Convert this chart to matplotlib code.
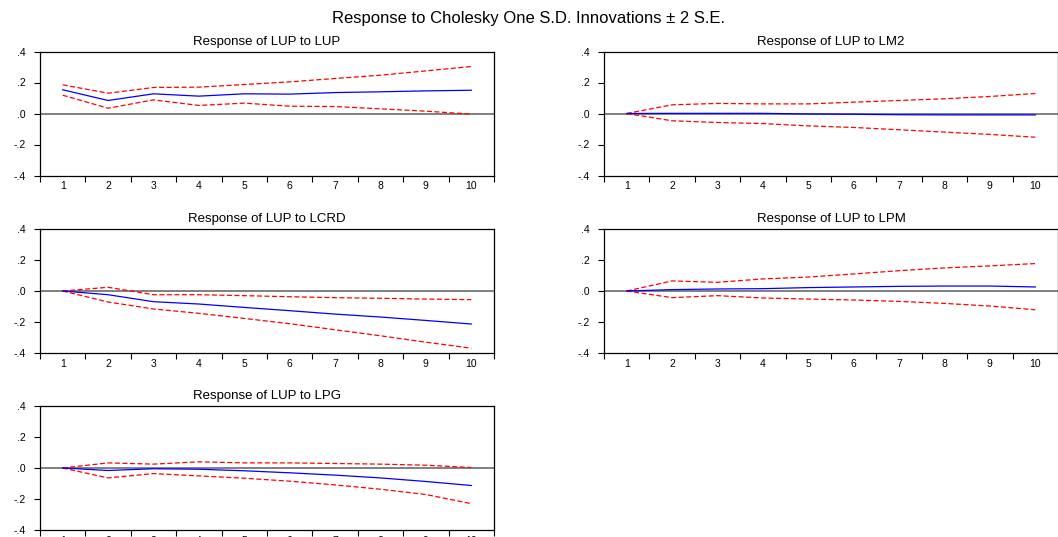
import matplotlib
matplotlib.use("Agg")
import matplotlib.pyplot as plt
import numpy as np

plt.rcParams['font.family'] = ['Liberation Sans', 'DejaVu Sans']

periods = [1, 2, 3, 4, 5, 6, 7, 8, 9, 10]
titles = ["Response of LUP to LUP", "Response of LUP to LM2", "Response of LUP to LCRD",
          "Response of LUP to LPM", "Response of LUP to LPG"]

resp_lup = [0.153, 0.084, 0.127, 0.112, 0.127, 0.125, 0.135, 0.140, 0.146, 0.150]
up_lup = [0.185, 0.131, 0.168, 0.170, 0.187, 0.204, 0.226, 0.247, 0.275, 0.303]
lo_lup = [0.118, 0.034, 0.088, 0.052, 0.067, 0.047, 0.045, 0.030, 0.015, -0.004]

resp_lm2 = [0.0, 0.001, 0.001, 0.001, -0.003, -0.005, -0.008, -0.009, -0.009, -0.009]
up_lm2 = [0.0, 0.056, 0.065, 0.062, 0.062, 0.073, 0.084, 0.095, 0.110, 0.129]
lo_lm2 = [0.0, -0.047, -0.058, -0.065, -0.080, -0.090, -0.105, -0.120, -0.135, -0.153]

resp_lcrd = [0.0, -0.024, -0.069, -0.084, -0.106, -0.127, -0.149, -0.168, -0.190, -0.213]
up_lcrd = [0.0, 0.024, -0.024, -0.024, -0.030, -0.037, -0.043, -0.047, -0.052, -0.056]
lo_lcrd = [0.0, -0.071, -0.116, -0.144, -0.177, -0.211, -0.250, -0.289, -0.330, -0.369]

resp_lpm = [0.0, 0.009, 0.013, 0.015, 0.022, 0.026, 0.030, 0.032, 0.032, 0.026]
up_lpm = [0.0, 0.065, 0.056, 0.078, 0.090, 0.110, 0.131, 0.149, 0.162, 0.177]
lo_lpm = [0.0, -0.043, -0.030, -0.045, -0.052, -0.058, -0.067, -0.080, -0.097, -0.121]

resp_lpg = [0.0, -0.016, -0.005, -0.008, -0.018, -0.031, -0.046, -0.064, -0.087, -0.113]
up_lpg = [0.0, 0.033, 0.025, 0.040, 0.033, 0.033, 0.029, 0.025, 0.018, 0.003]
lo_lpg = [0.0, -0.064, -0.036, -0.051, -0.066, -0.085, -0.109, -0.137, -0.171, -0.230]

series = [(resp_lup, up_lup, lo_lup), (resp_lm2, up_lm2, lo_lm2),
          (resp_lcrd, up_lcrd, lo_lcrd), (resp_lpm, up_lpm, lo_lpm),
          (resp_lpg, up_lpg, lo_lpg)]

yticks = [-0.4, -0.2, 0.0, 0.2, 0.4]
ytick_labels = ["-.4", "-.2", ".0", ".2", ".4"]

W, H = 1058, 537
fig = plt.figure(figsize=(W / 100, H / 100), dpi=100)

boxes = [(40, 51.5), (604, 51.5), (40, 229), (604, 229), (40, 406)]
aw, ah = 454, 124

fig.text(0.5, 1 - 18.5 / H, "Response to Cholesky One S.D. Innovations \u00b1 2 S.E.",
         ha='center', va='center', fontsize=12)

for (x0, y0), title, (r, u, l) in zip(boxes, titles, series):
    ax = fig.add_axes([x0 / W, 1 - (y0 + ah) / H, aw / W, ah / H])
    ax.axhline(0, color='#808080', lw=1.4, zorder=1)
    ax.plot(periods, u, color='red', lw=0.9, ls=(0, (4, 2)), zorder=2)
    ax.plot(periods, l, color='red', lw=0.9, ls=(0, (4, 2)), zorder=2)
    ax.plot(periods, r, color='blue', lw=0.9, zorder=3)
    ax.set_xlim(0.5, 10.5)
    ax.set_ylim(-0.4, 0.4)
    ax.set_yticks(yticks)
    ax.set_yticklabels(ytick_labels)
    ax.set_xticks(periods)
    ax.set_xticklabels([str(p) for p in periods])
    ax.set_xticks(np.arange(0.5, 11, 1.0), minor=True)
    ax.tick_params(axis='x', which='major', length=0, labelsize=7.5, pad=4)
    ax.tick_params(axis='x', which='minor', length=4, width=0.8, direction='out')
    ax.tick_params(axis='y', length=4, width=0.8, direction='out', labelsize=7.5, pad=6)
    for s in ax.spines.values():
        s.set_linewidth(0.9)
    ax.set_title(title, fontsize=9.5, pad=5)

fig.savefig("out.png", dpi=100)
